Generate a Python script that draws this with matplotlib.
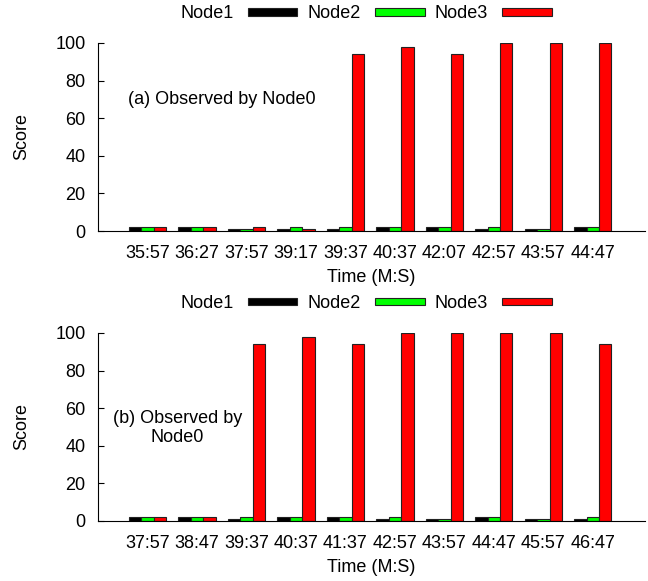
import numpy as np
import matplotlib
matplotlib.use("Agg")
import matplotlib.pyplot as plt
from matplotlib.patches import Patch

plt.rcParams["font.family"] = ["Liberation Sans", "DejaVu Sans"]
plt.rcParams["font.size"] = 13

# 資料 (a) Observed by Node0
times_a = ["35:57", "36:27", "37:57", "39:17", "39:37", "40:37", "42:07", "42:57", "43:57", "44:47"]
node1_a = [2, 2, 1, 1, 1, 2, 2, 1, 1, 2]
node2_a = [2, 2, 1, 2, 2, 2, 2, 2, 1, 2]
node3_a = [2, 2, 2, 1, 94, 98, 94, 100, 100, 100]

# 資料 (b) Observed by Node0
times_b = ["37:57", "38:47", "39:37", "40:37", "41:37", "42:57", "43:57", "44:47", "45:57", "46:47"]
node1_b = [2, 2, 1, 2, 2, 1, 1, 2, 1, 1]
node2_b = [2, 2, 2, 2, 2, 2, 1, 2, 1, 2]
node3_b = [2, 2, 94, 98, 94, 100, 100, 100, 100, 94]

series_names = ["Node1", "Node2", "Node3"]
colors = ["#000000", "#00ff00", "#ff0000"]


# 繪製一個子圖 (長條圖 + 圖例 + 註解)
def draw_panel(ax, times, values, note, note_xy, note_ha):
    x = np.arange(len(times))
    w = 0.25
    for k, (vals, c) in enumerate(zip(values, colors)):
        ax.bar(x + (k - 1) * w, vals, width=w, color=c, edgecolor="#222222",
               linewidth=0.8)
    ax.set_xlim(-1, 10.05)
    ax.set_ylim(0, 100)
    ax.set_yticks(np.arange(0, 101, 20))
    ax.set_xticks(x)
    ax.set_xticklabels(times)
    ax.tick_params(axis="y", direction="in", length=4, pad=9)
    ax.tick_params(axis="x", length=0, pad=10)
    ax.spines["top"].set_visible(False)
    ax.spines["right"].set_visible(False)
    ax.set_ylabel("Score", labelpad=18)
    ax.set_xlabel("Time (M:S)", labelpad=5)
    ax.text(note_xy[0], note_xy[1], note, ha=note_ha, va="center",
            multialignment="center")
    handles = [Patch(facecolor=c, edgecolor="#222222", linewidth=0.8) for c in colors]
    ax.legend(handles, series_names, ncol=3, loc="center",
              bbox_to_anchor=(0.49, 1.155), frameon=False, markerfirst=False,
              handlelength=2.75, handleheight=0.25, handletextpad=0.8,
              columnspacing=0.55, borderpad=0, borderaxespad=0)


fig = plt.figure(figsize=(6.48, 5.81), dpi=100)
ax1 = fig.add_axes([0.1512, 0.6024, 0.844, 0.3236])
ax2 = fig.add_axes([0.1512, 0.1033, 0.844, 0.3236])

draw_panel(ax1, times_a, [node1_a, node2_a, node3_a],
           "(a) Observed by Node0", (-0.4, 70), "left")
draw_panel(ax2, times_b, [node1_b, node2_b, node3_b],
           "(b) Observed by\nNode0", (0.6, 49.5), "center")

fig.savefig("out.png", dpi=100)
